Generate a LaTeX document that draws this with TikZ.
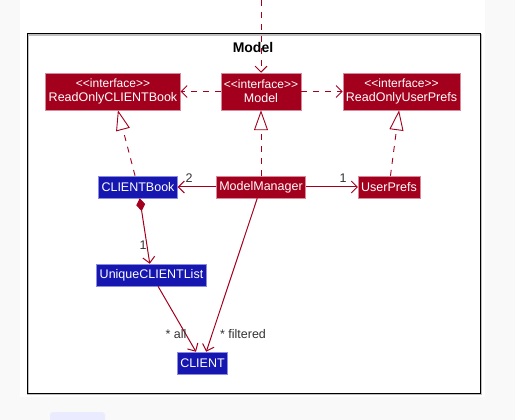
\documentclass[tikz,border=0pt]{standalone}
\usepackage{fontspec}
\setmainfont{Liberation Sans}
\usetikzlibrary{arrows.meta}

\definecolor{umlred}{HTML}{A3001E}
\definecolor{umlblue}{HTML}{1616B0}
\definecolor{rededge}{HTML}{D98A9A}
\definecolor{blueedge}{HTML}{8C8CE0}
\definecolor{pagegrey}{HTML}{F9F9FA}

\tikzset{
  klass/.style={text=white, inner xsep=3pt, inner ysep=0pt, minimum height=22pt,
    font=\fontsize{12.5}{14}\selectfont},
  redclass/.style={klass, fill=umlred, draw=rededge},
  blueclass/.style={klass, fill=umlblue, draw=blueedge},
  iface/.style={redclass, align=center, minimum height=37pt},
  dep/.style={draw=umlred, line width=0.9pt, dash pattern=on 6pt off 6pt,
    -{Straight Barb[length=6pt,width=12pt]}},
  real/.style={draw=umlred, line width=0.9pt, dash pattern=on 6pt off 6pt,
    -{Triangle[open,fill=white,length=20pt,width=14pt]}},
  assoc/.style={draw=umlred, line width=1pt, -{Straight Barb[length=6pt,width=12pt]}},
  mult/.style={text=black!80, font=\fontsize{12.5}{14}\selectfont, inner sep=0pt},
}

\newcommand{\stereo}[1]{{\fontsize{12}{14}\selectfont <{}<interface>{}>}\\#1}

\begin{document}
\begin{tikzpicture}[x=1pt, y=-1pt, line width=0.5pt]
  \useasboundingbox (0,0) rectangle (515,420);
  \fill[pagegrey] (0,0) rectangle (515,420);
  \fill[white] (20,0) rectangle (485,397);
  \fill[blue!8, rounded corners=3pt] (50,412) rectangle (105,425);

  % package frame
  \draw[black!25, line width=2pt] (28,35) rectangle (481,394);
  \draw[line width=1pt] (27,34) rectangle (480,393);
  \node[font=\fontsize{14}{16}\selectfont\bfseries] (title) at (253,47) {Model};

  % interfaces
  \node[iface] (rocb) at (113,91.5) {\stereo{ReadOnlyCLIENTBook}};
  \node[iface] (model) at (261,91.5) {\stereo{Model}};
  \node[iface] (roup) at (401.5,91.5) {\stereo{ReadOnlyUserPrefs}};

  % classes
  \node[blueclass] (cbook) at (138,187) {CLIENTBook};
  \node[redclass] (mgr) at (261,187) {ModelManager};
  \node[redclass] (prefs) at (389,187) {UserPrefs};
  \node[blueclass] (ulist) at (151.5,275) {UniqueCLIENTList};
  \node[blueclass] (client) at (202.5,363) {CLIENT};

  \coordinate (outside) at (261,0);
  \draw[dep] (outside) -- (model);
  \draw[dep] (model) -- (rocb);
  \draw[dep] (model) -- (roup);

  \draw[real] (mgr) -- (model);
  \draw[real] (cbook) -- (rocb);
  \draw[real] (prefs) -- (roup);

  \draw[assoc] (mgr) -- (cbook);
  \draw[assoc] (mgr) -- (prefs);
  \draw[assoc, {Diamond[length=13pt,width=9pt,fill=umlred]}-{Straight Barb[length=6pt,width=12pt]}]
    (cbook) -- (ulist);
  \draw[assoc] (ulist) -- (client);
  \draw[assoc] (mgr) -- (client);

  % multiplicities
  \node[mult] (m2) at (189,178) {2};
  \node[mult] (m1) at (343,178) {1};
  \node[mult] (m3) at (143,245) {1};
  \node[mult] (mall) at (176,334) {* all};
  \node[mult] (mfilt) at (243,334) {* filtered};
\end{tikzpicture}
\end{document}
